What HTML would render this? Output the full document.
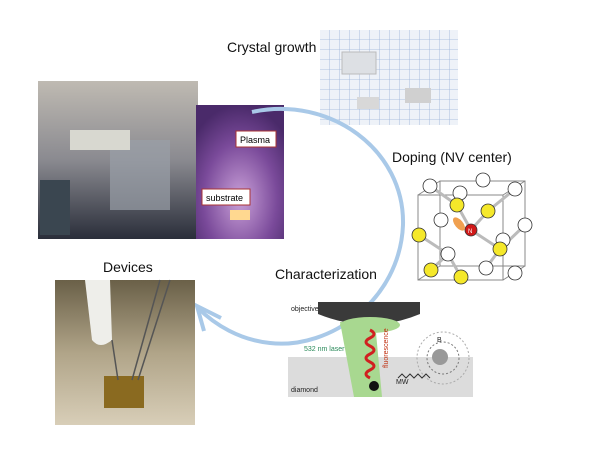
<!DOCTYPE html>
<html><head><style>
body{margin:0;width:600px;height:452px;background:#fff;position:relative;overflow:hidden;font-family:"Liberation Sans",sans-serif}
.t{position:absolute;font-size:14px;color:#111}
</style></head><body>
<div class="t" style="left:227px;top:39px">Crystal growth</div>
<div class="t" style="left:392px;top:149px">Doping (NV center)</div>
<div class="t" style="left:275px;top:266px">Characterization</div>
<div class="t" style="left:103px;top:259px">Devices</div>
<svg width="600" height="452" style="position:absolute;left:0;top:0">
<defs>
<pattern id="g" width="10" height="10" patternUnits="userSpaceOnUse"><path d="M10 0V10H0" fill="none" stroke="#9ab3d8" stroke-width="0.8"/></pattern>
<radialGradient id="pl" cx="0.5" cy="0.7" r="0.7"><stop offset="0" stop-color="#c9a0d8"/><stop offset="0.6" stop-color="#7a4a9a"/><stop offset="1" stop-color="#4a2a6a"/></radialGradient>
<linearGradient id="lab" x1="0" y1="0" x2="0" y2="1"><stop offset="0" stop-color="#bfbab2"/><stop offset="0.5" stop-color="#8a8a90"/><stop offset="1" stop-color="#2a2e3a"/></linearGradient>
<linearGradient id="dev" x1="0" y1="0" x2="0" y2="1"><stop offset="0" stop-color="#6a6048"/><stop offset="0.5" stop-color="#b0a488"/><stop offset="1" stop-color="#d8ceb8"/></linearGradient>
</defs>
<rect x="320" y="30" width="138" height="95" fill="#eef2f8"/>
<rect x="320" y="30" width="138" height="95" fill="url(#g)"/>
<rect x="342" y="52" width="34" height="22" fill="#dde0e4" stroke="#bbb"/>
<rect x="357" y="97" width="22" height="12" fill="#d8d8d8"/>
<rect x="405" y="88" width="26" height="15" fill="#d0d0d0"/>
<rect x="38" y="81" width="160" height="158" fill="url(#lab)"/>
<rect x="40" y="180" width="30" height="55" fill="#3a4650"/>
<rect x="110" y="140" width="60" height="70" fill="#9aa0a8" opacity="0.7"/>
<rect x="70" y="130" width="60" height="20" fill="#d8d8d0"/>
<rect x="196" y="105" width="88" height="134" fill="url(#pl)"/>
<rect x="236" y="131" width="40" height="16" fill="#fff" stroke="#a33"/>
<text x="240" y="143" font-size="9" font-family="Liberation Sans">Plasma</text>
<rect x="202" y="189" width="48" height="16" fill="#fff" stroke="#a33"/>
<text x="206" y="201" font-size="9" font-family="Liberation Sans">substrate</text>
<rect x="230" y="210" width="20" height="10" fill="#ffd890"/>
<path d="M252 112 C330 95 405 150 403 225 C400 300 330 350 270 343 C240 340 215 325 198 308" fill="none" stroke="#a9c9e8" stroke-width="4"/>
<path d="M221 318 L197 306 L204 331" fill="none" stroke="#a9c9e8" stroke-width="4"/>
<g stroke="#888" fill="none" stroke-width="1">
<rect x="418" y="195" width="85" height="85"/><rect x="440" y="181" width="85" height="85"/>
<line x1="418" y1="195" x2="440" y2="181"/><line x1="503" y1="195" x2="525" y2="181"/><line x1="503" y1="280" x2="525" y2="266"/><line x1="418" y1="280" x2="440" y2="266"/>
</g>
<g stroke="#bbb" stroke-width="3">
<line x1="457" y1="205" x2="471" y2="230"/><line x1="471" y1="230" x2="488" y2="211"/><line x1="471" y1="230" x2="500" y2="249"/><line x1="448" y1="254" x2="419" y2="235"/><line x1="448" y1="254" x2="431" y2="270"/><line x1="448" y1="254" x2="461" y2="277"/><line x1="500" y1="249" x2="525" y2="225"/><line x1="500" y1="249" x2="486" y2="268"/><line x1="457" y1="205" x2="430" y2="186"/><line x1="488" y1="211" x2="515" y2="189"/>
</g>
<g stroke="#333" stroke-width="0.8">
<g fill="#fff"><circle cx="430" cy="186" r="7"/><circle cx="483" cy="180" r="7"/><circle cx="515" cy="189" r="7"/><circle cx="460" cy="193" r="7"/><circle cx="441" cy="220" r="7"/><circle cx="525" cy="225" r="7"/><circle cx="503" cy="240" r="7"/><circle cx="448" cy="254" r="7"/><circle cx="486" cy="268" r="7"/><circle cx="515" cy="273" r="7"/></g>
<g fill="#f5e82a"><circle cx="457" cy="205" r="7"/><circle cx="488" cy="211" r="7"/><circle cx="419" cy="235" r="7"/><circle cx="500" cy="249" r="7"/><circle cx="431" cy="270" r="7"/><circle cx="461" cy="277" r="7"/></g>
<circle cx="471" cy="230" r="6" fill="#d01818"/>
</g>
<text x="468" y="233" font-size="6" fill="#fff">N</text>
<ellipse cx="459" cy="224" rx="4" ry="8" fill="#f0a050" transform="rotate(-40 459 224)"/>
<rect x="288" y="357" width="185" height="40" fill="#dcdcdc"/>
<path d="M340 322 L375 322 L382 397 L354 397 Z" fill="#a8d890"/>
<path d="M318 302 L420 302 L420 314 Q370 335 318 314 Z" fill="#3a3a3a"/>
<ellipse cx="370" cy="325" rx="30" ry="8" fill="#a8d890"/>
<path d="M370 330 q8 4 0 8 q-8 4 0 8 q8 4 0 8 q-8 4 0 8 q8 4 0 8 q-8 4 0 8" fill="none" stroke="#d02020" stroke-width="3"/>
<circle cx="374" cy="386" r="5" fill="#111"/>
<circle cx="443" cy="358" r="26" fill="none" stroke="#aaa" stroke-dasharray="2 2"/>
<circle cx="443" cy="358" r="16" fill="none" stroke="#777" stroke-dasharray="2 2"/>
<circle cx="440" cy="357" r="8" fill="#999"/>
<path d="M398 378 l4 -4 l4 4 l4 -4 l4 4 l4 -4 l4 4 l4 -4 l4 4" fill="none" stroke="#333" stroke-width="1"/>
<g font-family="Liberation Sans" font-size="7">
<text x="291" y="311" fill="#222">objective</text>
<text x="304" y="351" fill="#2a8a5a">532 nm laser</text>
<text x="291" y="392" fill="#222">diamond</text>
<text x="396" y="384" fill="#222">MW</text>
<text x="437" y="342" fill="#222">B</text>
<text x="0" y="0" fill="#c03010" transform="translate(388 368) rotate(-90)">fluorescence</text>
</g>
<rect x="55" y="280" width="140" height="145" fill="url(#dev)"/>
<path d="M85 280 L110 280 L112 340 Q100 350 92 340 Z" fill="#eeeeea"/>
<rect x="104" y="376" width="40" height="32" fill="#8a6a20"/>
<g stroke="#555" stroke-width="1.5"><line x1="112" y1="340" x2="118" y2="380"/><line x1="160" y1="280" x2="132" y2="380"/><line x1="170" y1="280" x2="138" y2="380"/></g>
</svg>
</body></html>
